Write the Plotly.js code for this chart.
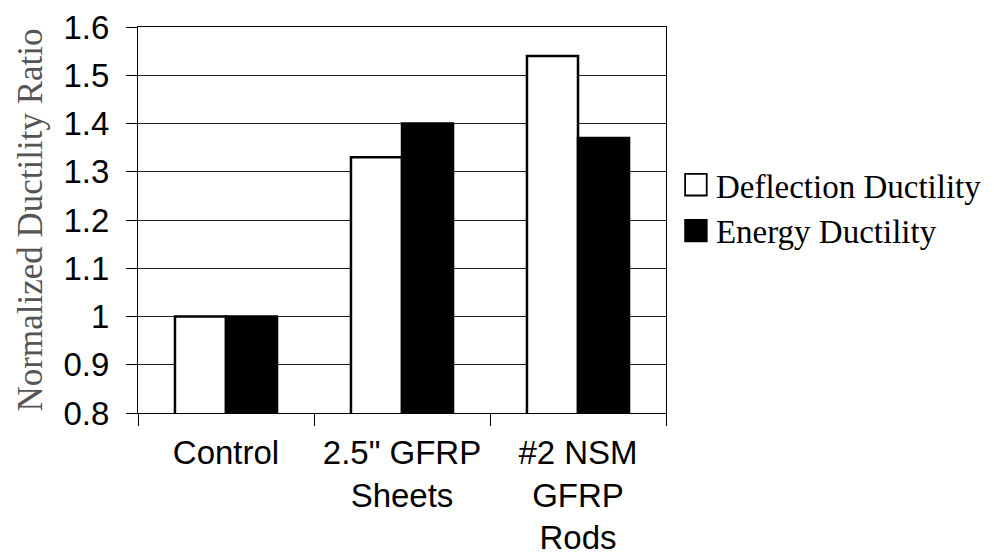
<!DOCTYPE html>
<html>
<head>
<meta charset="utf-8">
<script src="https://cdn.plot.ly/plotly-3.0.1.min.js"></script>
<style>html,body{margin:0;padding:0;background:#fff;}#chart{width:994px;height:560px;}</style>
</head>
<body>
<div id="chart"></div>
<script>
const categories = ["Control", "2.5\" GFRP<br>Sheets", "#2 NSM<br>GFRP<br>Rods"];
const deflectionDuctility = [1.00, 1.33, 1.54];
const energyDuctility = [1.00, 1.40, 1.37];
const seriesNames = ["Deflection Ductility", "Energy Ductility"];

const data = [
  {type: "bar", name: seriesNames[0], x: categories, y: deflectionDuctility,
   marker: {color: "#ffffff", line: {color: "#000000", width: 2.5}}},
  {type: "bar", name: seriesNames[1], x: categories, y: energyDuctility,
   marker: {color: "#000000", line: {color: "#000000", width: 2.5}}}
];

const layout = {
  width: 994, height: 560,
  margin: {l: 138, r: 328, t: 27, b: 147, autoexpand: false},
  paper_bgcolor: "#ffffff", plot_bgcolor: "#ffffff",
  barmode: "group", bargap: 0.42, bargroupgap: 0,
  showlegend: true,
  legend: {xref: "container", yref: "container", x: 0.680, xanchor: "left", y: 0.629, yanchor: "middle",
           font: {family: "Liberation Serif, Times New Roman, serif", size: 33, color: "#000"},
           itemwidth: 30, tracegroupgap: 0, bgcolor: "rgba(0,0,0,0)"},
  xaxis: {type: "category", showline: true, linecolor: "#000", linewidth: 1, mirror: true,
          ticks: "outside", tickson: "boundaries", ticklen: 12, tickcolor: "#000",
          showgrid: false, ticklabelstandoff: 10, automargin: false,
          tickfont: {family: "Liberation Sans, Arial, sans-serif", size: 33, color: "#000"}},
  yaxis: {range: [0.8, 1.6], dtick: 0.1, tick0: 0.8, showline: true, linecolor: "#000", linewidth: 1, mirror: true,
          ticks: "outside", ticklen: 11, tickcolor: "#000", showgrid: true, gridcolor: "#222", gridwidth: 1,
          zeroline: false, ticklabelstandoff: 10, automargin: false,
          tickfont: {family: "Liberation Sans, Arial, sans-serif", size: 33, color: "#000"},
          title: {text: "Normalized Ductility Ratio", standoff: 10,
                  font: {family: "Liberation Serif, Times New Roman, serif", size: 35, color: "#555"}}}
};
Plotly.newPlot("chart", data, layout, {displayModeBar: false, staticPlot: true}).then(gd => {
  gd.querySelectorAll(".legendpoints path").forEach(p => {
    const t = p.getAttribute("transform") || "";
    p.setAttribute("transform", t + " scale(1.8)");
    p.style.strokeWidth = "1px";
  });
});
</script>
</body>
</html>
